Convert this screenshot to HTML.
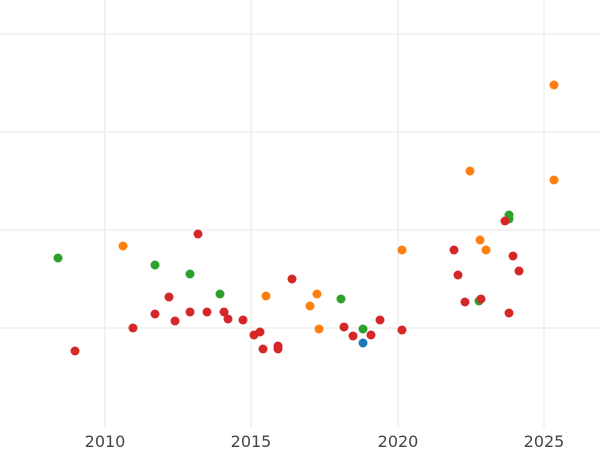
<!DOCTYPE html>
<html><head><meta charset="utf-8"><style>html,body{margin:0;padding:0;background:#fff}</style></head>
<body>
<svg width="600" height="450" xmlns="http://www.w3.org/2000/svg">
<rect width="600" height="450" fill="#fff"/>
<g stroke="#efefef" stroke-width="1.6">
<line x1="0" y1="34" x2="600" y2="34"/>
<line x1="0" y1="132" x2="600" y2="132"/>
<line x1="0" y1="230" x2="600" y2="230"/>
<line x1="0" y1="328" x2="600" y2="328"/>
<line x1="105" y1="0" x2="105" y2="427"/>
<line x1="251" y1="0" x2="251" y2="427"/>
<line x1="398" y1="0" x2="398" y2="427"/>
<line x1="544" y1="0" x2="544" y2="427"/>
</g>
<g font-family="DejaVu Sans, sans-serif" font-size="16" fill="#444" text-anchor="middle">
<text x="105" y="447">2010</text>
<text x="251" y="447">2015</text>
<text x="398" y="447">2020</text>
<text x="544" y="447">2025</text>
</g>
<g fill="#2ca02c">
<circle cx="58" cy="258" r="4.5"/><circle cx="155" cy="265" r="4.5"/><circle cx="190" cy="274" r="4.5"/><circle cx="220" cy="294" r="4.5"/><circle cx="341" cy="299" r="4.5"/><circle cx="363" cy="329" r="4.5"/><circle cx="479" cy="301" r="4.5"/><circle cx="509" cy="215" r="4.5"/><circle cx="509" cy="219" r="4.5"/>
</g>
<g fill="#ff7f0e">
<circle cx="123" cy="246" r="4.5"/><circle cx="266" cy="296" r="4.5"/><circle cx="310" cy="306" r="4.5"/><circle cx="317" cy="294" r="4.5"/><circle cx="319" cy="329" r="4.5"/><circle cx="402" cy="250" r="4.5"/><circle cx="470" cy="171" r="4.5"/><circle cx="480" cy="240" r="4.5"/><circle cx="486" cy="250" r="4.5"/><circle cx="554" cy="85" r="4.5"/><circle cx="554" cy="180" r="4.5"/>
</g>
<g fill="#d62728">
<circle cx="75" cy="351" r="4.5"/><circle cx="133" cy="328" r="4.5"/><circle cx="155" cy="314" r="4.5"/><circle cx="169" cy="297" r="4.5"/><circle cx="175" cy="321" r="4.5"/><circle cx="190" cy="312" r="4.5"/><circle cx="198" cy="234" r="4.5"/><circle cx="207" cy="312" r="4.5"/><circle cx="224" cy="312" r="4.5"/><circle cx="228" cy="319" r="4.5"/><circle cx="243" cy="320" r="4.5"/><circle cx="254" cy="335" r="4.5"/><circle cx="260" cy="332" r="4.5"/><circle cx="263" cy="349" r="4.5"/><circle cx="278" cy="346" r="4.5"/><circle cx="278" cy="349" r="4.5"/><circle cx="292" cy="279" r="4.5"/><circle cx="344" cy="327" r="4.5"/><circle cx="353" cy="336" r="4.5"/><circle cx="371" cy="335" r="4.5"/><circle cx="380" cy="320" r="4.5"/><circle cx="402" cy="330" r="4.5"/><circle cx="454" cy="250" r="4.5"/><circle cx="458" cy="275" r="4.5"/><circle cx="465" cy="302" r="4.5"/><circle cx="481" cy="299" r="4.5"/><circle cx="505" cy="221" r="4.5"/><circle cx="509" cy="313" r="4.5"/><circle cx="513" cy="256" r="4.5"/><circle cx="519" cy="271" r="4.5"/>
</g>
<g fill="#1f77b4"><circle cx="363" cy="343" r="4.5"/></g>
</svg>
</body></html>
